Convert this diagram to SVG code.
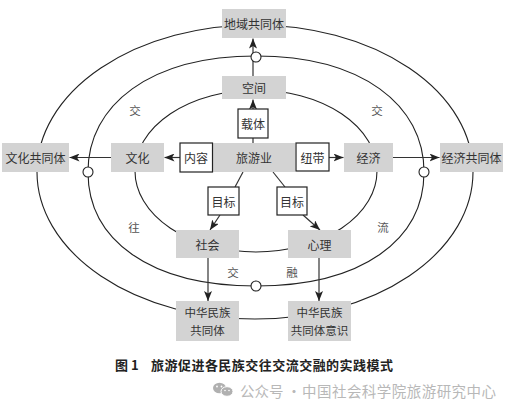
<svg xmlns="http://www.w3.org/2000/svg" width="513" height="404" viewBox="0 0 513 404">
<style>
.bg{fill:#ffffff}
.ring{fill:none;stroke:#222;stroke-width:1.1}
.gray{fill:#d3d3d3}
.wbox{fill:#ffffff;stroke:#222;stroke-width:1.2}
.t{font-family:"Noto Sans CJK SC","Liberation Sans",sans-serif;font-size:12px;fill:#333;text-anchor:middle;dominant-baseline:central}
.t2{font-family:"Noto Sans CJK SC","Liberation Sans",sans-serif;font-size:11.5px;fill:#333;text-anchor:middle;dominant-baseline:central}
.lab{font-family:"Noto Sans CJK SC","Liberation Sans",sans-serif;font-size:11.5px;fill:#555;text-anchor:middle;dominant-baseline:central}
.ln{fill:none;stroke:#333;stroke-width:1.2}
.knot{fill:#fff;stroke:#222;stroke-width:1.1}
.cap{font-family:"Noto Sans CJK SC","Liberation Sans",sans-serif;font-size:13px;font-weight:bold;fill:#222;dominant-baseline:central}
.wm{font-family:"Noto Sans CJK SC","Liberation Sans",sans-serif;font-size:14.5px;fill:#b8b8b8;dominant-baseline:central}
</style>
<defs>
<marker id="ah" viewBox="0 0 10 8" refX="10" refY="4" markerWidth="10" markerHeight="8" markerUnits="userSpaceOnUse" orient="auto">
<path d="M0,0 L10,4 L0,8 L2.5,4 z" fill="#222"/>
</marker>
</defs>
<rect class="bg" x="0" y="0" width="513" height="404"/>
<g id="rings">
<ellipse class="ring" cx="255" cy="172" rx="218" ry="147"/>
<path class="ring" d="M88,172 C88,105 150,56 256,56 C362,56 424,105 424,172 C424,240 362,286 256,286 C150,286 88,240 88,172 Z"/>
<ellipse class="ring" cx="256" cy="171" rx="121" ry="81"/>
</g>
<g id="ring-labels">
<text class="lab" x="135" y="110">交</text>
<text class="lab" x="377" y="110">交</text>
<text class="lab" x="134" y="227">往</text>
<text class="lab" x="383" y="227">流</text>
<text class="lab" x="233" y="272">交</text>
<text class="lab" x="292" y="272">融</text>
</g>
<g id="connectors">
<line class="ln" x1="253" y1="76" x2="253" y2="38.5" marker-end="url(#ah)"/>
<line class="ln" x1="253" y1="109" x2="253" y2="99.5" marker-end="url(#ah)"/>
<line class="ln" x1="253" y1="143" x2="253" y2="138"/>
<line class="ln" x1="111" y1="157.5" x2="69.5" y2="157.5" marker-end="url(#ah)"/>
<line class="ln" x1="180" y1="157.5" x2="164.5" y2="157.5" marker-end="url(#ah)"/>
<line class="ln" x1="329" y1="157.5" x2="343.5" y2="157.5" marker-end="url(#ah)"/>
<line class="ln" x1="393" y1="157.5" x2="439.5" y2="157.5" marker-end="url(#ah)"/>
<line class="ln" x1="243" y1="172" x2="235" y2="187"/>
<line class="ln" x1="220" y1="215" x2="210" y2="230" marker-end="url(#ah)"/>
<line class="ln" x1="273" y1="172" x2="285" y2="187"/>
<line class="ln" x1="303" y1="215" x2="320" y2="230" marker-end="url(#ah)"/>
<line class="ln" x1="208" y1="258" x2="208" y2="301" marker-end="url(#ah)"/>
<line class="ln" x1="319" y1="258" x2="319" y2="301" marker-end="url(#ah)"/>
</g>
<g id="knots">
<circle class="knot" cx="256" cy="57" r="5"/>
<circle class="knot" cx="88" cy="172" r="5"/>
<circle class="knot" cx="424" cy="172" r="5"/>
<circle class="knot" cx="256" cy="286" r="5"/>
</g>
<g id="n-diyu"><rect class="gray" x="222" y="9" width="64" height="29"/><text class="t" x="254" y="23.5">地域共同体</text></g>
<g id="n-kongjian"><rect class="gray" x="222" y="76" width="64" height="23"/><text class="t" x="254" y="87.5">空间</text></g>
<g id="n-zaiti"><rect class="wbox" x="238" y="109" width="30" height="29"/><text class="t" x="253" y="123.5">载体</text></g>
<g id="n-lvyou"><rect class="gray" x="213" y="143" width="82" height="29"/><text class="t" x="254" y="157.5">旅游业</text></g>
<g id="n-neirong"><rect class="wbox" x="180" y="143" width="32.5" height="29"/><text class="t" x="196" y="157.5">内容</text></g>
<g id="n-niudai"><rect class="wbox" x="296" y="143" width="33" height="28"/><text class="t" x="312.5" y="157">纽带</text></g>
<g id="n-wenhua"><rect class="gray" x="111" y="143" width="53" height="29"/><text class="t" x="137.5" y="157.5">文化</text></g>
<g id="n-jingji"><rect class="gray" x="344" y="143" width="49" height="29"/><text class="t" x="368.5" y="157.5">经济</text></g>
<g id="n-wenhuagt"><rect class="gray" x="2" y="143" width="67" height="29"/><text class="t" x="35.5" y="157.5">文化共同体</text></g>
<g id="n-jingjigt"><rect class="gray" x="440" y="143" width="63" height="29"/><text class="t" x="471.5" y="157.5">经济共同体</text></g>
<g id="n-mubiao1"><rect class="wbox" x="208" y="187" width="31" height="28"/><text class="t" x="223.5" y="201">目标</text></g>
<g id="n-mubiao2"><rect class="wbox" x="277" y="187" width="30" height="28"/><text class="t" x="292" y="201">目标</text></g>
<g id="n-shehui"><rect class="gray" x="176" y="230" width="63" height="28"/><text class="t" x="207.5" y="244">社会</text></g>
<g id="n-xinli"><rect class="gray" x="288" y="230" width="63" height="28"/><text class="t" x="319.5" y="244">心理</text></g>
<g id="n-zhgt"><rect class="gray" x="176" y="301" width="63" height="40"/><text class="t2" x="207.5" y="312">中华民族</text><text class="t2" x="207.5" y="330">共同体</text></g>
<g id="n-zhgtys"><rect class="gray" x="288" y="301" width="63" height="40"/><text class="t2" x="319.5" y="312">中华民族</text><text class="t2" x="319.5" y="330">共同体意识</text></g>
<g id="caption">
<text class="cap" x="115" y="364" font-family="Liberation Serif">图 1</text>
<text class="cap" x="151" y="364" textLength="242" lengthAdjust="spacing">旅游促进各民族交往交流交融的实践模式</text>
</g>
<g id="watermark">
<ellipse cx="219.5" cy="388" rx="6.5" ry="5.3" fill="#b0b0b0"/>
<ellipse cx="227" cy="391.5" rx="6" ry="4.8" fill="#b0b0b0" stroke="#fff" stroke-width="1"/>
<circle cx="217" cy="386.5" r="0.9" fill="#fff"/>
<circle cx="221.5" cy="386.5" r="0.9" fill="#fff"/>
<circle cx="225" cy="390.5" r="0.8" fill="#fff"/>
<circle cx="229" cy="390.5" r="0.8" fill="#fff"/>
<text class="wm" x="240" y="390">公众号 ·</text>
<text class="wm" x="302" y="390" textLength="194" lengthAdjust="spacing">中国社会科学院旅游研究中心</text>
</g>
</svg>
